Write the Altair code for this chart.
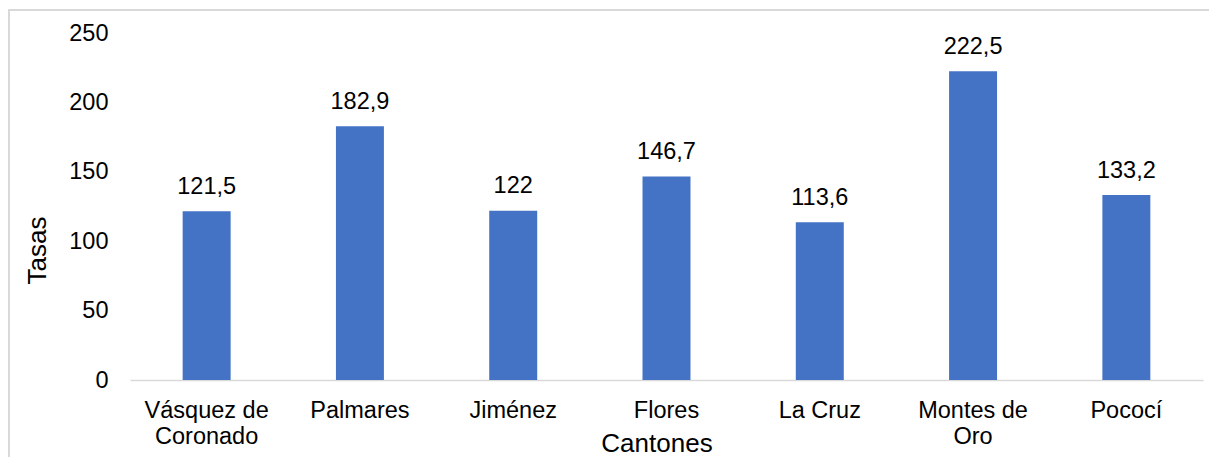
import altair as alt
import pandas as pd

categories = ["Vásquez de Coronado", "Palmares", "Jiménez", "Flores", "La Cruz", "Montes de Oro", "Pococí"]
values = [121.5, 182.9, 122, 146.7, 113.6, 222.5, 133.2]
y_ticks = [0, 50, 100, 150, 200, 250]


def fmt(v):
    s = ("%g" % v)
    return s.replace(".", ",")


df = pd.DataFrame({
    "canton": categories,
    "tasa": values,
    "label": [fmt(v) for v in values],
})

FONT = "Liberation Sans"
W, H = 1073, 347
PL, PT, PR, PB = 122, 25, 6, 77

x_enc = alt.X(
    "canton:N",
    sort=categories,
    scale=alt.Scale(paddingInner=0.687, paddingOuter=0.3435),
    axis=alt.Axis(
        title="Cantones",
        labelAngle=0,
        labelFont=FONT,
        labelFontSize=23.5,
        labelColor="#000000",
        labelPadding=18,
        labelBaseline="top",
        labelLineHeight=26,
        labelExpr="split(replace(datum.label, ' de ', ' de|'), '|')",
        ticks=False,
        tickSize=0,
        domain=True,
        domainColor="#d9d9d9",
        domainWidth=1.5,
        grid=False,
        titleFont=FONT,
        titleFontSize=26,
        titleFontWeight="normal",
        titleColor="#000000",
        titleX=526.5,
        titleY=71,
        titleBaseline="alphabetic",
        titleAlign="center",
    ),
)

y_enc = alt.Y(
    "tasa:Q",
    scale=alt.Scale(domain=[0, 250], nice=False),
    axis=alt.Axis(
        title="Tasas",
        values=y_ticks,
        labelFont=FONT,
        labelFontSize=23.5,
        labelColor="#000000",
        labelPadding=22,
        ticks=False,
        tickSize=0,
        domain=False,
        grid=False,
        titleFont=FONT,
        titleFontSize=26,
        titleFontWeight="normal",
        titleColor="#000000",
        titleAngle=270,
        titleX=-92.5,
        titleY=217,
        titleAlign="center",
        titleBaseline="middle",
    ),
)

bars = alt.Chart(df).mark_bar(color="#4472C4").encode(x=x_enc, y=y_enc)

texts = alt.Chart(df).mark_text(
    font=FONT, fontSize=23.5, color="#000000", baseline="middle", dy=-24.5
).encode(x=alt.X("canton:N", sort=categories), y="tasa:Q", text="label:N")

frame_top = alt.Chart(df).mark_rule(color="#d9d9d9", strokeWidth=2).encode(
    x=alt.value(-PL), x2=alt.value(W + PR), y=alt.value(-PT + 2)
)
frame_left = alt.Chart(df).mark_rule(color="#d9d9d9", strokeWidth=2).encode(
    x=alt.value(-PL + 1), y=alt.value(-PT + 1), y2=alt.value(H + PB)
)

chart = alt.layer(frame_top, frame_left, bars, texts).properties(
    width=W,
    height=H,
    autosize=alt.AutoSizeParams(type="none"),
    padding={"left": PL, "top": PT, "right": PR, "bottom": PB},
    background="white",
).configure_view(stroke="transparent", strokeWidth=0)

chart.save("out.html", embed_options={"renderer": "svg", "actions": False})
